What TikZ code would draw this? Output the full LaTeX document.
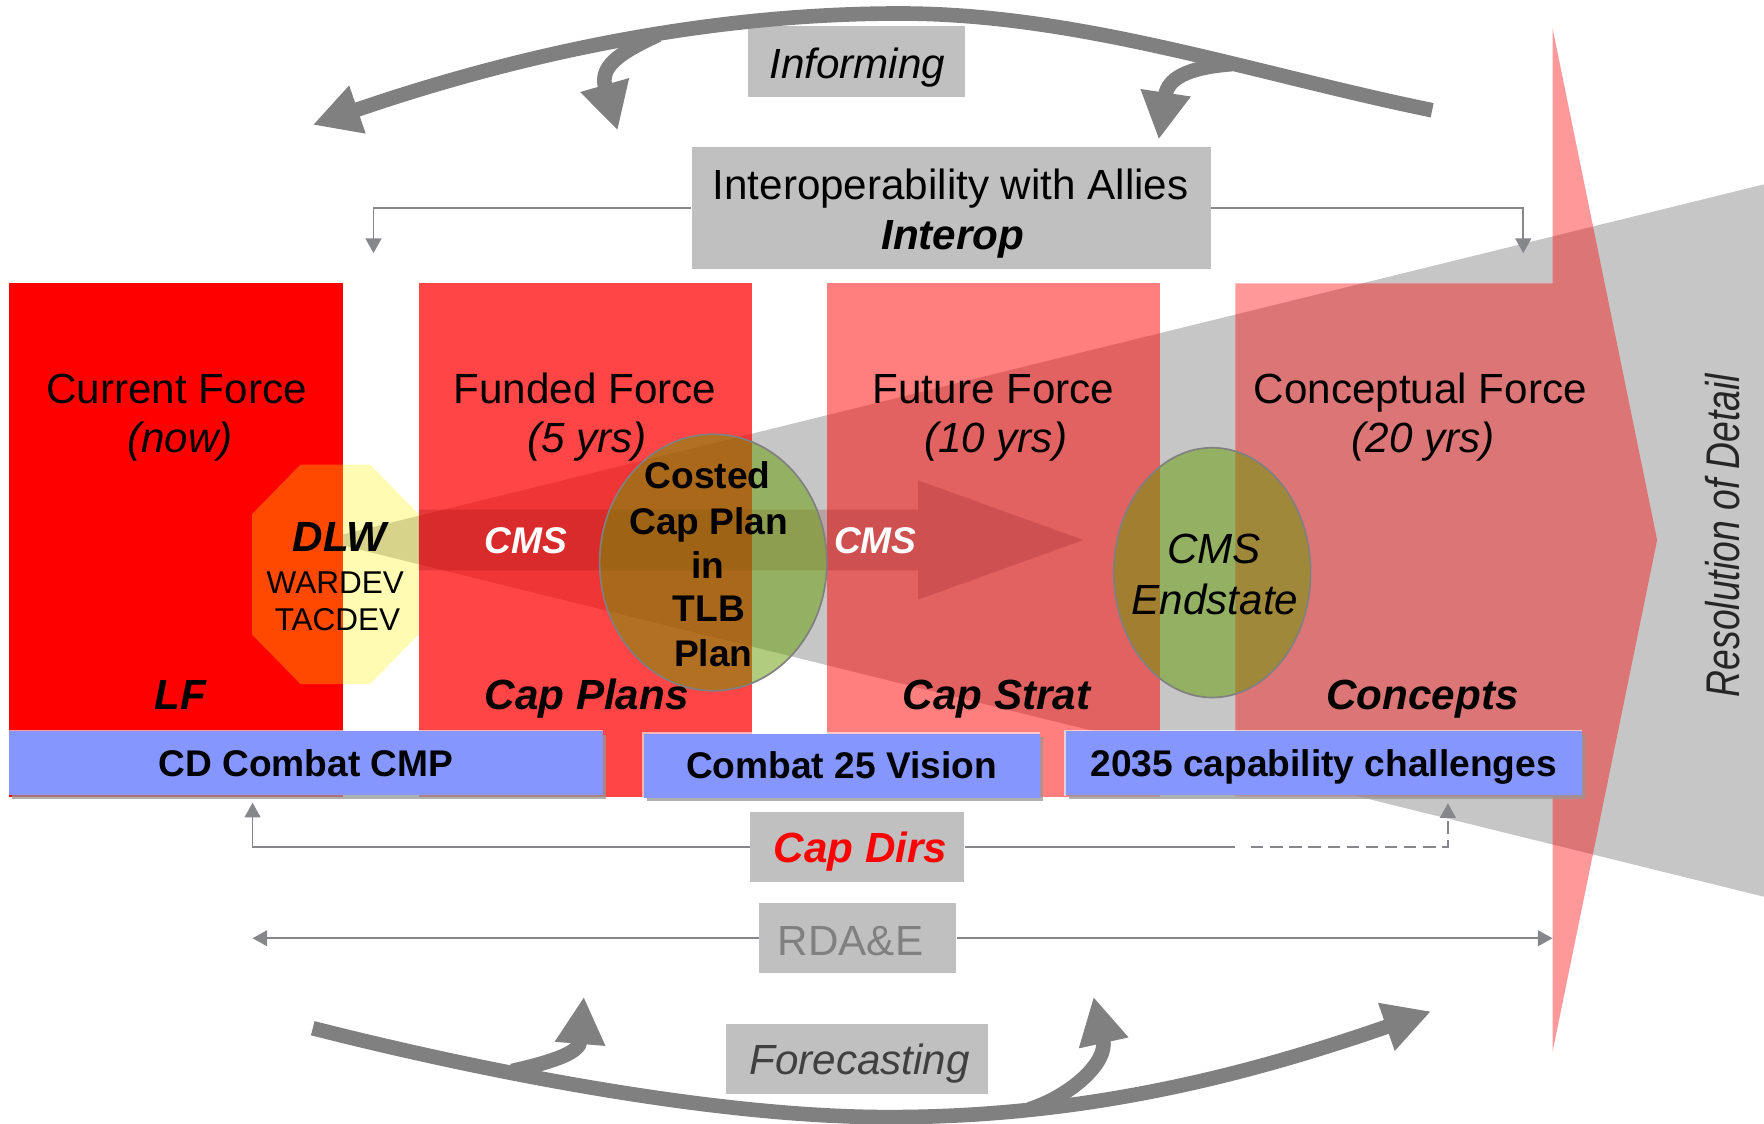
\documentclass[tikz,border=0pt]{standalone}
\usepackage{fontspec}
\setmainfont{Liberation Sans}
\usetikzlibrary{arrows.meta,shapes.geometric}
\definecolor{wedgegray}{RGB}{198,198,198}
\definecolor{boxgray}{RGB}{192,192,192}
\definecolor{arcgray}{RGB}{128,128,128}
\definecolor{linegray}{RGB}{134,135,139}
\definecolor{barblue}{RGB}{133,150,255}
\definecolor{ellgreen}{RGB}{100,155,0}
\definecolor{banddark}{RGB}{120,0,0}
\definecolor{shadowgray}{RGB}{150,150,150}
\definecolor{fcgray}{RGB}{64,64,64}
\definecolor{rdagray}{RGB}{128,128,128}
\newcommand\myfs[1]{\fontsize{#1}{#1}\selectfont}
\begin{document}
\begin{tikzpicture}[x=0.5pt,y=-0.5pt,
  txt/.style={inner sep=0pt, text depth=0pt, anchor=center},
  tR/.style={txt, font=\myfs{18.75}, text height=13.4pt},
  tI/.style={txt, font=\myfs{18.75}\itshape, text height=13.4pt},
  tBI/.style={txt, font=\myfs{18.75}\bfseries\itshape, text height=13.4pt},
  sB/.style={txt, font=\myfs{16.5}\bfseries, text height=11.8pt},
  sBI/.style={txt, font=\myfs{16.5}\bfseries\itshape, text height=11.8pt},
  sR/.style={txt, font=\myfs{14}, text height=10pt},
  ell/.style={ellipse, inner sep=0pt, fill=ellgreen, fill opacity=.5, draw=arcgray, line width=.75pt},
  bar/.style={sB, fill=barblue},
  gbox/.style={fill=boxgray, inner sep=0pt},
  conn/.style={draw=linegray, line width=.75pt, -{Triangle[length=6.5pt,width=7pt]}},
  connline/.style={draw=linegray, line width=.75pt},
  bigarc/.style={draw=arcgray, line width=6.5pt, -{Triangle[length=21pt,width=21pt]}},
  hilite/.style={draw=white, draw opacity=.6, line width=.6pt},
  shadowbox/.style={fill=shadowgray, fill opacity=.75}
]
\useasboundingbox (0,0) rectangle (1568,999);
\fill[white] (0,0) rectangle (1568,999);

% resolution wedge
\fill[wedgegray] (285,480) -- (1600,156) -- (1600,805) -- cycle;

% force blocks
\fill[red] (8,252) rectangle (305,708);
\fill[red, fill opacity=.73] (372,252) rectangle (668,708);
\fill[red, fill opacity=.5] (735,252) rectangle (1031,708);
\fill[red, fill opacity=.4] (1098,252) -- (1380,252) -- (1380,25) -- (1473,480)
  -- (1380,935) -- (1380,708) -- (1098,708) -- cycle;

% CMS band arrow
\fill[banddark, fill opacity=.18] (372,453) -- (816,453) -- (816,427) -- (963,480)
  -- (816,533) -- (816,507) -- (372,507) -- cycle;

% DLW octagon
\fill[yellow, fill opacity=.3] (267,413) -- (329,413) -- (372,457) -- (372,564)
  -- (329,608) -- (267,608) -- (224,564) -- (224,457) -- cycle;

% ellipses
\node[ell, minimum width=101pt, minimum height=114pt] (capplan) at (634,500) {};
\node[ell, minimum width=87.5pt, minimum height=111pt] (endstate) at (1077.5,509) {};

% blue bars
\fill[shadowbox] (11,653) rectangle (539,710);
\node[bar, minimum width=264pt, minimum height=28.5pt] (cdbar) at (272,678.5) {CD Combat CMP};
\draw[hilite] (cdbar.south west) -- (cdbar.north west) -- (cdbar.north east);
\fill[shadowbox] (575,655) rectangle (927,712);
\node[bar, minimum width=176pt, minimum height=28.5pt] (visionbar) at (748,680.5) {Combat 25 Vision};
\draw[hilite] (visionbar.south west) -- (visionbar.north west) -- (visionbar.north east);
\fill[shadowbox] (950,653) rectangle (1409,710);
\node[bar, minimum width=229.5pt, minimum height=28.5pt] (chalbar) at (1176.5,678.5) {2035 capability challenges};
\draw[hilite] (chalbar.south west) -- (chalbar.north west) -- (chalbar.north east);

% titles
\node[tR] (cf1) at (157,345) {Current Force};
\node[tI] (cf2) at (160,389) {(now)};
\node[tR] (ff1) at (520,345) {Funded Force};
\node[tI] (ff2) at (522,389) {(5 yrs)};
\node[tR] (fu1) at (883,345) {Future Force};
\node[tI] (fu2) at (885,389) {(10 yrs)};
\node[tR] (co1) at (1262.5,345) {Conceptual Force};
\node[tI] (co2) at (1265,389) {(20 yrs)};

% bottom labels
\node[tBI] (lf) at (160,617.5) {LF};
\node[tBI] (capplans) at (521.5,617.5) {Cap Plans};
\node[tBI] (capstrat) at (886,617.5) {Cap Strat};
\node[tBI] (concepts) at (1264.5,617.5) {Concepts};

% DLW texts
\node[tBI] (dlw) at (302,477) {DLW};
\node[sR] (wardev) at (298,517.5) {WARDEV};
\node[sR] (tacdev) at (300,550.5) {TACDEV};

% CMS labels
\node[sBI, text=white] (cms1) at (467.5,480) {CMS};
\node[sBI, text=white] (cms2) at (778,480) {CMS};

% ellipse texts
\node[sB] (cp1) at (629,422) {Costed};
\node[sB] (cp2) at (630,463) {Cap Plan};
\node[sB] (cp3) at (629,502) {in};
\node[sB] (cp4) at (630,541) {TLB};
\node[sB] (cp5) at (634,581) {Plan};
\node[tI] (es1) at (1079,487.5) {CMS};
\node[tI] (es2) at (1080,532.5) {Endstate};

% resolution label
\node[txt, rotate=90, font=\myfs{21}\itshape, text height=15pt, text=black!85] (resol) at (1531,476)
  {\scalebox{0.79}[1]{Resolution of Detail}};

% grey boxes
\node[gbox, minimum width=96.5pt, minimum height=31.5pt] (informing) at (761.5,54.5) {};
\node[tI] (informingt) at (762,56) {Informing};
\node[gbox, minimum width=230.5pt, minimum height=54.25pt] (interop) at (845.5,184.75) {};
\node[tR] (interopt1) at (845,163.6) {Interoperability with Allies};
\node[tBI] (interopt2) at (847,208.6) {Interop};
\node[gbox, minimum width=95pt, minimum height=31pt] (capdirs) at (762,753) {};
\node[tBI, text=red] (capdirst) at (765,753.7) {Cap Dirs};
\node[gbox, minimum width=87.5pt, minimum height=31pt] (rda) at (762.5,834) {};
\node[tR, text=rdagray] (rdat) at (756,835.5) {RDA\&E};
\node[gbox, minimum width=116.5pt, minimum height=31pt] (forecast) at (761.5,941) {};
\node[tI, text=fcgray] (forecastt) at (764,942) {Forecasting};

% thin connectors
\coordinate (ilt) at (332,225);
\coordinate (irt) at (1354,225);
\draw[conn] (interop.west) -| (ilt);
\draw[conn] (interop.east) -| (irt);
\coordinate (cdl) at (224.5,713.5);
\coordinate (cdm1) at (1098,753);
\coordinate (cdm2) at (1112,753);
\coordinate (cdr) at (1287,714);
\draw[conn] (capdirs.west) -| (cdl);
\draw[connline] (capdirs.east) -- (cdm1);
\draw[conn, dash pattern=on 5.5pt off 3pt] (cdm2) -| (cdr);
\coordinate (rdl) at (224.5,834);
\coordinate (rdr) at (1380,834);
\draw[conn] (rda.west) -- (rdl);
\draw[conn] (rda.east) -- (rdr);

% big curved arrows (top)
\coordinate (tstart) at (1273,98);
\coordinate (ttip) at (278,111);
\coordinate (ta0) at (585,31);
\coordinate (ta1) at (549,116);
\coordinate (tb0) at (1095,57);
\coordinate (tb1) at (1030,124);
\draw[bigarc] (tstart) .. controls (1116,66) and (960,12) .. (800,12)
  .. controls (620,12) and (450,52) .. (ttip);
\draw[bigarc] (ta0) .. controls (548,48) and (533,60) .. (ta1);
\draw[bigarc] (tb0) .. controls (1055,60) and (1038,70) .. (tb1);

% big curved arrows (bottom)
\coordinate (bstart) at (278,914);
\coordinate (btip) at (1272,899);
\coordinate (ba0) at (455,952);
\coordinate (ba1) at (519,886);
\coordinate (bb0) at (915,986);
\coordinate (bb1) at (972,886);
\draw[bigarc] (bstart) .. controls (440,955) and (640,993) .. (790,993)
  .. controls (960,993) and (1102,958) .. (btip);
\draw[bigarc] (ba0) .. controls (495,943) and (515,935) .. (ba1);
\draw[bigarc] (bb0) .. controls (950,975) and (985,945) .. (bb1);
\end{tikzpicture}
\end{document}
